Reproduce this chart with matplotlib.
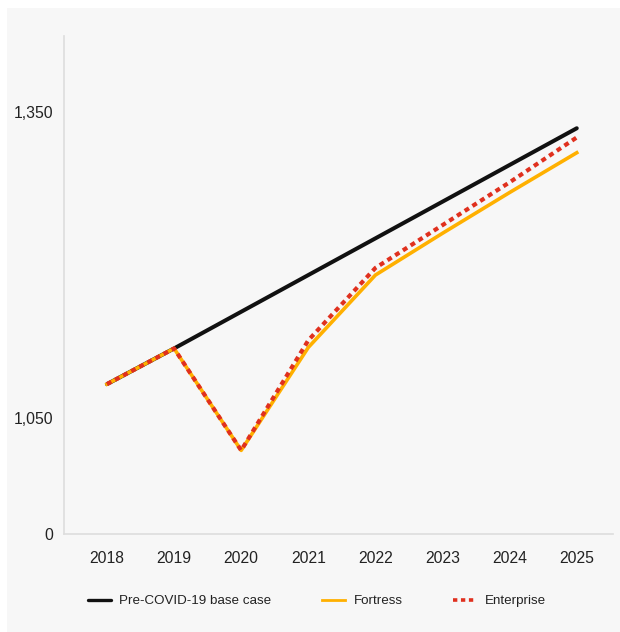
import matplotlib.pyplot as plt
from matplotlib.patches import Rectangle

plt.rcParams["font.family"] = ["Liberation Sans", "DejaVu Sans"]

years = ["2018", "2019", "2020", "2021", "2022", "2023", "2024", "2025"]
base_case = [1083, 1118, 1154, 1190, 1226, 1262, 1298, 1334]
fortress = [1083, 1118, 1018, 1119, 1190, 1231, 1271, 1310]
enterprise = [1083, 1118, 1018, 1126, 1197, 1239, 1281, 1325]

y_ticks = [936, 1050, 1350]
y_tick_labels = ["0", "1,050", "1,350"]

BG = "#f7f7f7"
W, H = 620, 632

fig = plt.figure(figsize=(W / 100, H / 100), dpi=100)
fig.patch.set_facecolor("white")
fig.patches.append(Rectangle((7 / W, 0), 1, 1 - 8 / H, transform=fig.transFigure,
                             facecolor=BG, edgecolor="none", zorder=-10))

ax = fig.add_axes([64 / W, 1 - 534 / H, (613 - 64) / W, (534 - 36) / H])
ax.set_facecolor(BG)

x = list(range(len(years)))
ax.plot(x, base_case, color="#111111", lw=2.9, solid_capstyle="round",
        label="Pre-COVID-19 base case", zorder=2)
ax.plot(x, fortress, color="#FFB000", lw=2.6, label="Fortress", zorder=3)
ax.plot(x, enterprise, color="#E0301E", lw=3, linestyle=(0, (1.2, 1.0)),
        label="Enterprise", zorder=4)

ax.set_xlim(-0.64, 7.54)
ax.set_ylim(936, 1424.5)
ax.set_xticks(x)
ax.set_xticklabels(years)
ax.set_yticks(y_ticks)
ax.set_yticklabels(y_tick_labels)
ax.tick_params(length=0, labelsize=11.3, colors="#222222")
ax.tick_params(axis="x", pad=12)
ax.tick_params(axis="y", pad=8)

for side in ("top", "right"):
    ax.spines[side].set_visible(False)
for side in ("left", "bottom"):
    ax.spines[side].set_color("#dddddd")
    ax.spines[side].set_linewidth(1.2)

leg = fig.legend(loc="center left", bbox_to_anchor=(88 / W, 1 - 601 / H), ncol=3,
                 frameon=False, fontsize=9.6, handlelength=1.75, handletextpad=0.6,
                 columnspacing=3.8, borderpad=0, borderaxespad=0)
for t in leg.get_texts():
    t.set_color("#222222")
leg.legend_handles[0].set_linewidth(2.4)
leg.legend_handles[1].set_linewidth(2.0)
leg.legend_handles[2].set_linewidth(2.6)

fig.savefig("out.png", dpi=100, facecolor=fig.get_facecolor())
